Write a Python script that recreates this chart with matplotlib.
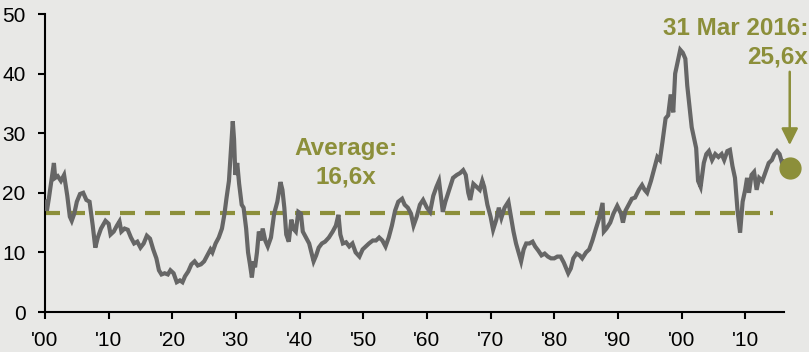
import matplotlib
matplotlib.use("Agg")
import matplotlib.pyplot as plt

years = [
    1900.0, 1900.3, 1900.6, 1901.0, 1901.4, 1901.6, 1902.0, 1902.5, 1903.0, 1903.5,
    1903.9, 1904.2, 1904.6, 1905.0, 1905.5, 1906.0, 1906.5, 1907.0, 1907.5, 1907.9,
    1908.3, 1908.8, 1909.5, 1910.0, 1910.3, 1910.8, 1911.3, 1911.7, 1912.0, 1912.5,
    1913.0, 1913.5, 1914.0, 1914.5, 1915.0, 1915.5, 1916.0, 1916.5, 1917.0, 1917.5,
    1917.9, 1918.3, 1918.8, 1919.3, 1919.7, 1920.2, 1920.7, 1921.2, 1921.6, 1922.0,
    1922.5, 1923.0, 1923.5, 1924.0, 1924.5, 1925.0, 1925.5, 1926.0, 1926.3, 1926.8,
    1927.3, 1927.8, 1928.2, 1928.5, 1928.9, 1929.2, 1929.5, 1929.7, 1929.9, 1930.2,
    1930.5, 1930.9, 1931.2, 1931.6, 1931.9, 1932.2, 1932.5, 1932.8, 1933.0, 1933.3,
    1933.6, 1933.9, 1934.2, 1934.6, 1935.0, 1935.5, 1936.0, 1936.5, 1937.0, 1937.3,
    1937.6, 1937.9, 1938.3, 1938.7, 1939.0, 1939.4, 1939.8, 1940.2, 1940.5, 1941.0,
    1941.5, 1942.2, 1942.6, 1943.0, 1943.5, 1944.0, 1944.6, 1945.2, 1945.7, 1946.1,
    1946.4, 1946.8, 1947.3, 1947.8, 1948.3, 1948.8, 1949.4, 1949.9, 1950.4, 1950.9,
    1951.5, 1952.0, 1952.5, 1953.0, 1953.5, 1954.0, 1954.5, 1955.0, 1955.5, 1956.1,
    1956.5, 1957.0, 1957.5, 1957.9, 1958.4, 1958.9, 1959.4, 1960.0, 1960.5, 1961.0,
    1961.5, 1961.9, 1962.5, 1962.9, 1963.5, 1964.1, 1964.7, 1965.2, 1965.7, 1966.1,
    1966.5, 1966.8, 1967.3, 1967.8, 1968.3, 1968.7, 1969.0, 1969.5, 1970.0, 1970.4,
    1970.9, 1971.3, 1971.7, 1972.2, 1972.8, 1973.2, 1973.6, 1974.0, 1974.4, 1974.8,
    1975.2, 1975.6, 1976.1, 1976.6, 1977.0, 1977.5, 1978.0, 1978.5, 1979.0, 1979.5,
    1980.0, 1980.5, 1981.0, 1981.5, 1982.2, 1982.6, 1983.0, 1983.5, 1984.0, 1984.4,
    1985.0, 1985.5, 1986.0, 1986.5, 1987.0, 1987.6, 1987.8, 1988.2, 1988.8, 1989.3,
    1989.9, 1990.5, 1990.8, 1991.2, 1991.7, 1992.2, 1992.7, 1993.3, 1993.8, 1994.2,
    1994.6, 1995.2, 1995.7, 1996.2, 1996.6, 1997.0, 1997.5, 1997.9, 1998.3, 1998.7,
    1999.0, 1999.4, 1999.8, 2000.2, 2000.6, 2000.9, 2001.2, 2001.6, 2001.9, 2002.3,
    2002.6, 2003.0, 2003.5, 2003.9, 2004.3, 2004.8, 2005.3, 2005.8, 2006.3, 2006.7,
    2007.2, 2007.6, 2008.0, 2008.4, 2008.8, 2009.2, 2009.6, 2010.0, 2010.3, 2010.6,
    2011.0, 2011.4, 2011.8, 2012.2, 2012.7, 2013.2, 2013.7, 2014.2, 2014.6, 2015.0,
    2015.4, 2015.8, 2016.0,
]
cape = [
    18.5, 17.0, 19.0, 22.0, 25.0, 22.5, 22.8, 22.0, 23.0, 19.5,
    16.0, 15.3, 16.5, 18.5, 19.8, 20.0, 18.8, 18.5, 14.5, 10.8,
    12.5, 14.0, 15.3, 14.8, 13.0, 13.5, 14.5, 15.2, 13.5, 14.0,
    13.8, 12.5, 11.5, 11.8, 10.8, 11.5, 12.8, 12.3, 10.5, 9.0,
    7.0, 6.3, 6.5, 6.3, 7.0, 6.5, 5.0, 5.3, 5.0, 6.0,
    6.8, 8.0, 8.5, 7.8, 8.0, 8.5, 9.5, 10.5, 10.0, 11.5,
    12.5, 14.0, 16.5, 19.0, 22.0, 27.0, 32.0, 29.0, 23.0, 25.0,
    21.5, 18.0, 17.5, 14.0, 10.0, 8.0, 5.8, 8.5, 7.5, 10.0,
    13.5, 12.0, 14.0, 12.0, 11.0, 12.5, 16.5, 18.5, 21.8, 20.5,
    17.5, 13.0, 11.8, 15.5, 14.0, 13.5, 16.8, 16.5, 13.5, 12.5,
    11.5, 8.5, 9.5, 10.8, 11.5, 11.8, 12.5, 13.5, 14.5, 16.3,
    13.0, 11.5, 11.7, 11.0, 11.5, 10.0, 9.3, 10.5, 11.0, 11.5,
    12.0, 12.0, 12.5, 12.0, 11.0, 12.5, 14.5, 17.0, 18.5, 19.0,
    18.0, 17.5, 16.5, 14.5, 16.0, 18.0, 18.8, 17.5, 16.8, 19.5,
    21.0, 22.0, 16.8, 18.5, 20.5, 22.5, 23.0, 23.3, 23.8, 23.0,
    20.0, 18.8, 21.5, 21.0, 20.5, 22.0, 21.0, 18.0, 16.0, 13.8,
    15.5, 17.5, 15.8, 17.5, 18.5, 16.0, 13.5, 11.5, 10.0, 8.5,
    10.5, 11.5, 11.5, 11.8, 11.0, 10.3, 9.5, 9.8, 9.3, 9.0,
    9.0, 9.3, 9.3, 8.3, 6.5, 7.3, 9.0, 9.8, 9.5, 9.0,
    10.0, 10.5, 12.0, 13.8, 15.5, 18.3, 13.5, 14.0, 15.0, 16.5,
    17.8, 16.5, 15.0, 17.0, 18.0, 19.0, 19.2, 20.5, 21.3, 20.5,
    20.0, 22.0, 24.0, 26.0, 25.5, 28.5, 32.5, 33.0, 36.5, 33.5,
    40.0, 42.0, 44.0, 43.5, 42.5, 38.0, 35.0, 31.0, 29.5, 27.5,
    22.0, 21.0, 25.0, 26.5, 27.0, 25.5, 26.5, 26.0, 26.5, 25.5,
    27.0, 27.2, 24.5, 22.5, 17.0, 13.3, 18.5, 20.5, 22.5, 20.0,
    23.0, 23.5, 20.5, 22.5, 22.0, 23.5, 25.0, 25.5, 26.5, 27.0,
    26.5, 25.0, 25.2,
]

average = 16.6
avg_end_year = 2014.4
tick_years = [1900, 1910, 1920, 1930, 1940, 1950, 1960, 1970, 1980, 1990, 2000, 2010]
tick_labels = ["'00", "'10", "'20", "'30", "'40", "'50", "'60", "'70", "'80", "'90", "'00", "'10"]
y_ticks = [0, 10, 20, 30, 40, 50]

latest_label = "31 Mar 2016:"
latest_value_label = "25,6x"
dot_year = 2017.0
dot_value = 24.2
avg_label = "Average:"
avg_value_label = "16,6x"

BG = "#e8e8e6"
OLIVE = "#8c8f3a"
GRAY = "#666666"

plt.rcParams['font.family'] = ['Liberation Sans', 'DejaVu Sans']

fig = plt.figure(figsize=(8.09, 3.52), dpi=100, facecolor=BG)
ax = fig.add_axes([45/809, 1-312/352, (784-45)/809, (312-14)/352])
ax.set_facecolor(BG)

ax.plot([1900, avg_end_year], [average, average], color=OLIVE, lw=3,
        dashes=(3.6, 2.4), zorder=2, solid_capstyle='butt')
ax.plot(years, cape, color=GRAY, lw=3.0, zorder=3, solid_joinstyle='miter')

ax.set_xlim(1900, 2016.1)
ax.set_ylim(0, 50)
ax.set_xticks(tick_years)
ax.set_xticklabels(tick_labels)
ax.set_yticks(y_ticks)

for s in ['top', 'right']:
    ax.spines[s].set_visible(False)
for s in ['left', 'bottom']:
    ax.spines[s].set_linewidth(1.5)
    ax.spines[s].set_color('black')
ax.tick_params(axis='both', direction='out', length=5, width=1.5, labelsize=15, colors='black')
ax.tick_params(axis='y', pad=9)
ax.tick_params(axis='x', pad=9)

fs = 17.5
ax.text(1947.3, 27.5, avg_label, color=OLIVE, fontsize=fs, fontweight='bold', ha='center', va='center')
ax.text(1947.3, 22.6, avg_value_label, color=OLIVE, fontsize=fs, fontweight='bold', ha='center', va='center')

ax.text(2019.9, 47.6, latest_label, color=OLIVE, fontsize=fs, fontweight='bold', ha='right', va='center', clip_on=False)
ax.text(2019.9, 42.8, latest_value_label, color=OLIVE, fontsize=fs, fontweight='bold', ha='right', va='center', clip_on=False)

ax.annotate('', xy=(dot_year, 28.0), xytext=(dot_year, 40.3),
            arrowprops=dict(arrowstyle='-|>,head_length=1.0,head_width=0.5', color=OLIVE, lw=1.8,
                            shrinkA=0, shrinkB=0),
            annotation_clip=False)
ax.plot([dot_year], [dot_value], 'o', color=OLIVE, markersize=15, clip_on=False, zorder=4)

fig.savefig("out.png", dpi=100, facecolor=BG)
